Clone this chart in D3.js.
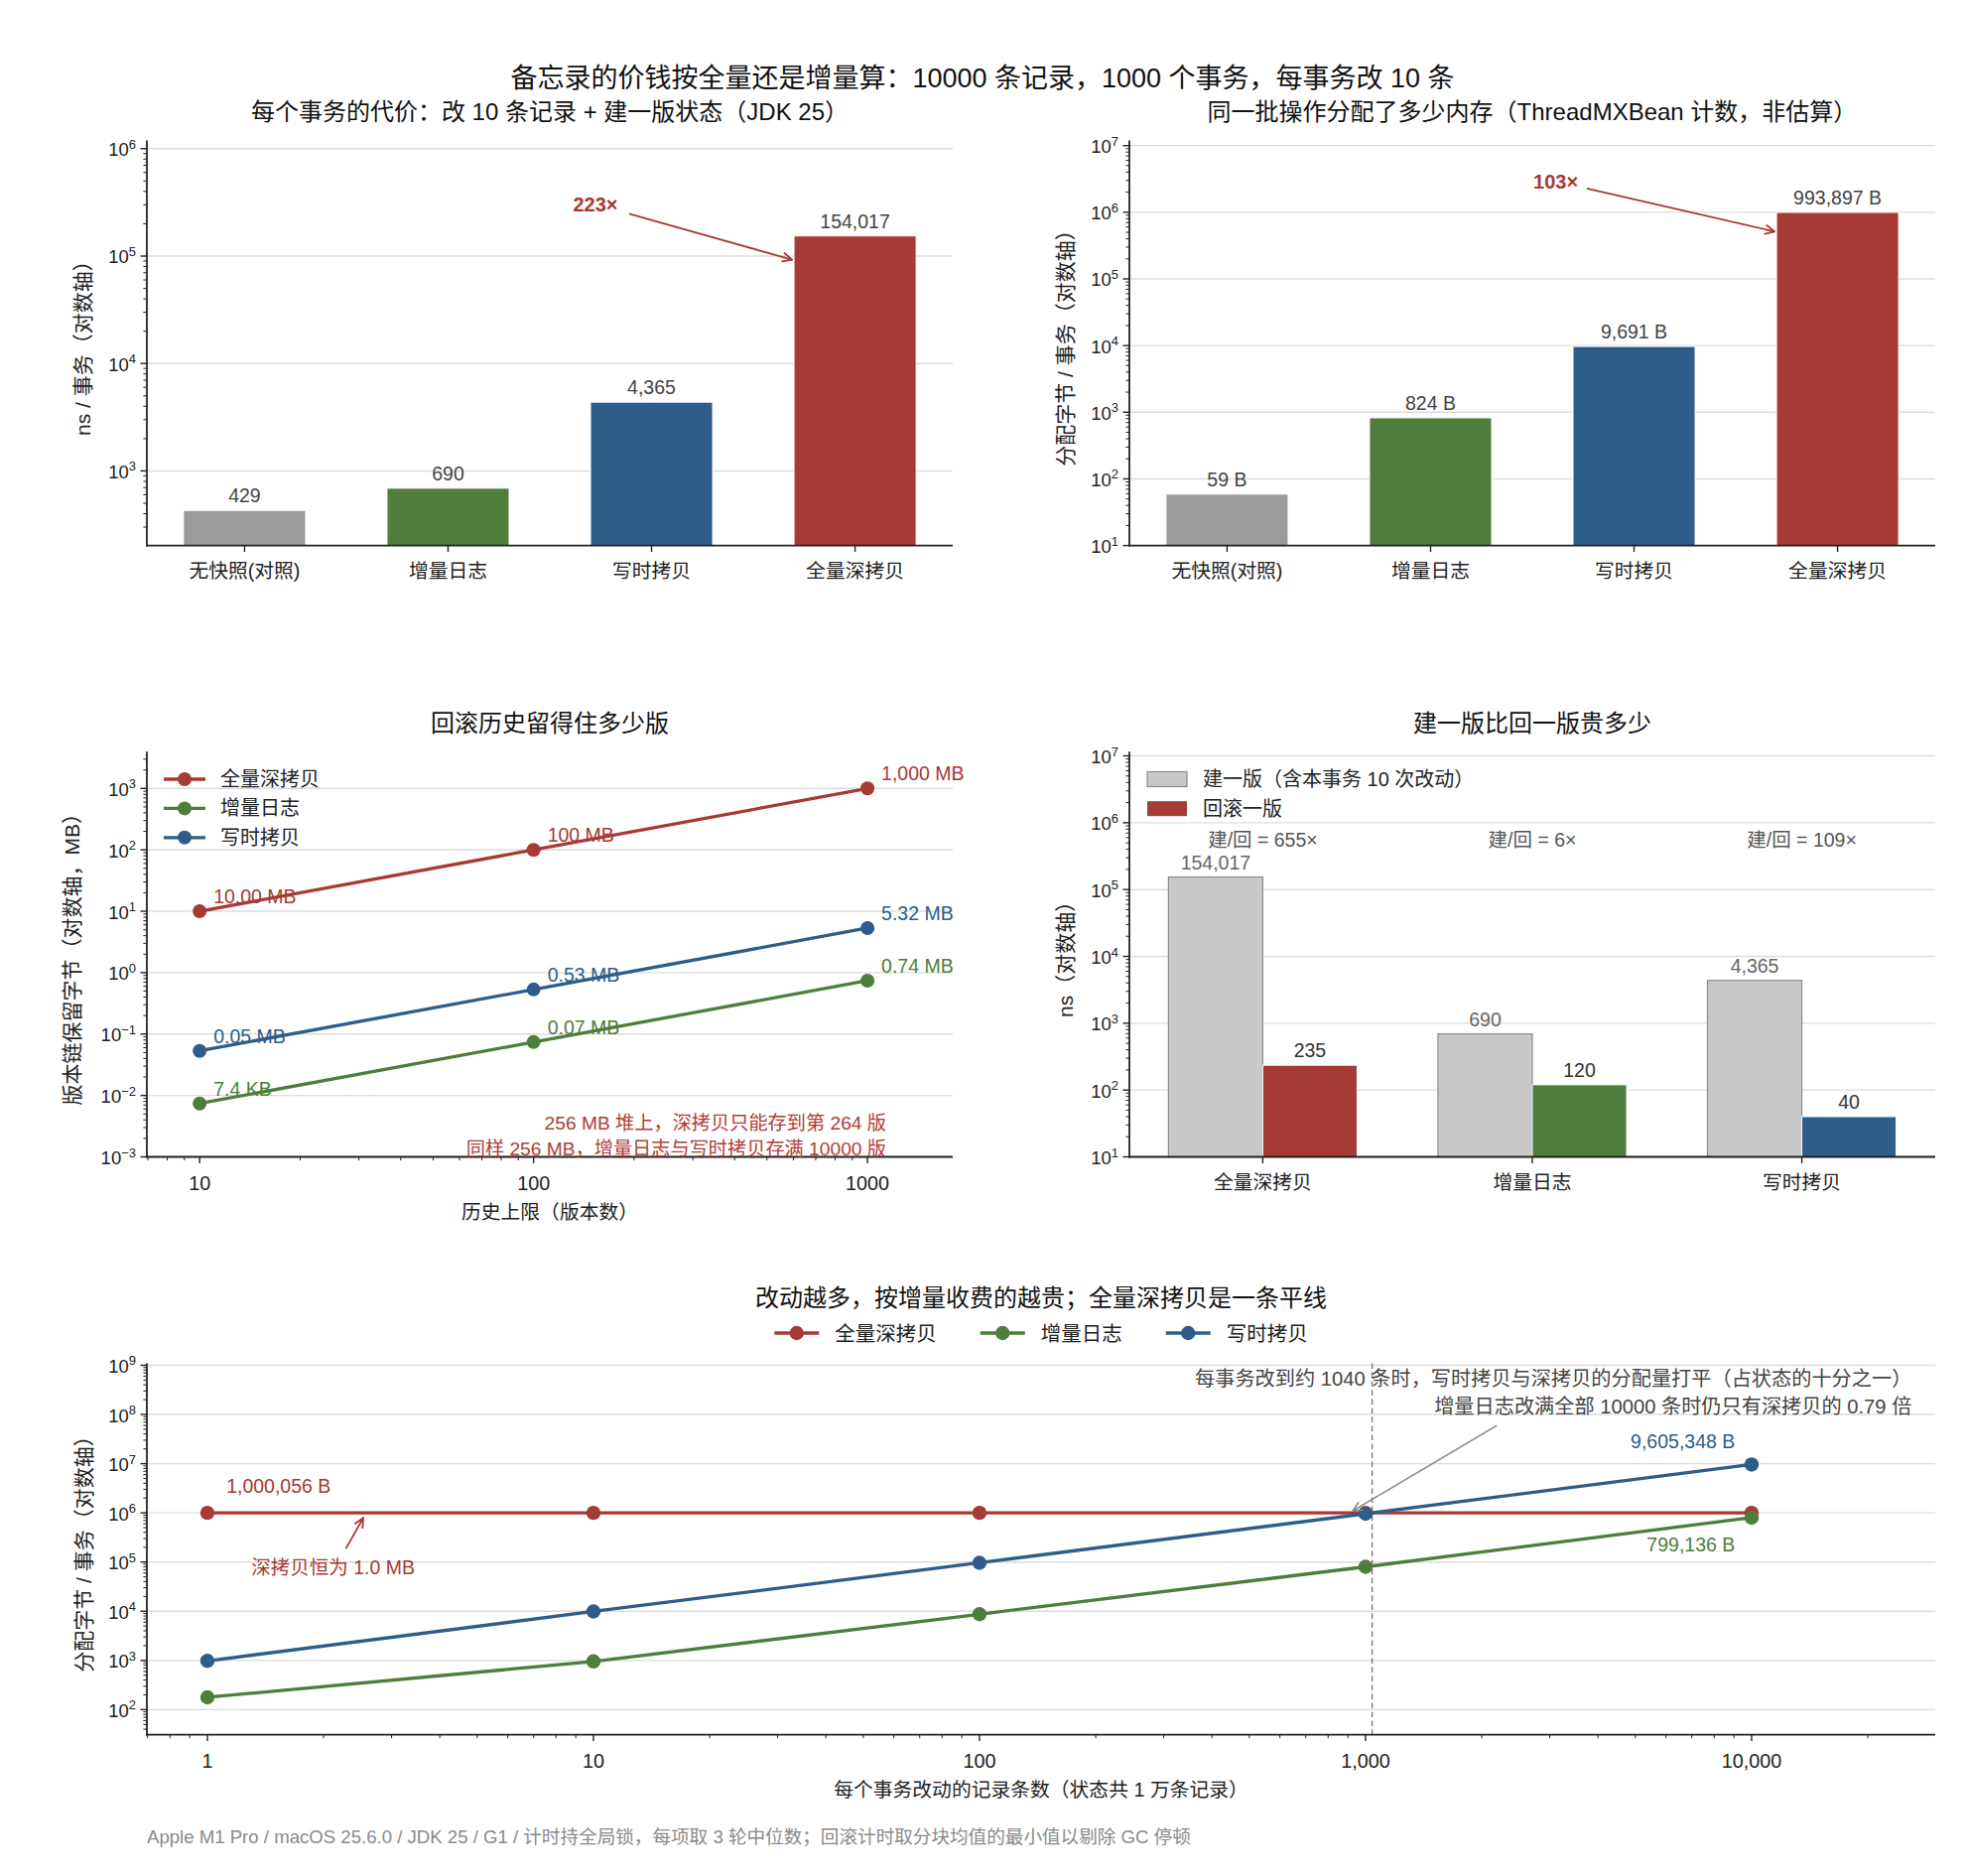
<!DOCTYPE html>
<html><head><meta charset="utf-8">
<script src="https://cdn.jsdelivr.net/npm/d3@7"></script>
<style>
body{margin:0;background:#fff}
svg{display:block}
text{font-family:"Liberation Sans","Noto Sans CJK SC","Noto Sans",sans-serif}
</style>
</head><body><script>
// ---------------- DATA ----------------
const costCats = ["无快照(对照)", "增量日志", "写时拷贝", "全量深拷贝"];
const costNs = [429, 690, 4365, 154017];
const allocBytes = [59, 824, 9691, 993897];

const histCaps = [10, 100, 1000];
const histFull = [10, 100, 1000];
const histInc = [0.0074, 0.074, 0.74];
const histCow = [0.0532, 0.532, 5.32];
const histFullLbl = ["10.00 MB", "100 MB", "1,000 MB"];
const histIncLbl = ["7.4 KB", "0.07 MB", "0.74 MB"];
const histCowLbl = ["0.05 MB", "0.53 MB", "5.32 MB"];

const rbCats = ["全量深拷贝", "增量日志", "写时拷贝"];
const rbBuild = [154017, 690, 4365];
const rbRollback = [235, 120, 40];
const rbRatio = ["655×", "6×", "109×"];

const changeCounts = [1, 10, 100, 1000, 10000];
const chFull = [1000056, 1000056, 1000056, 1000056, 1000056];
const chInc = [178, 955, 8700, 80000, 799136];
const chCow = [980, 9900, 96500, 961000, 9605348];
const breakEven = 1040;

const RED = "#a63a34", GREEN = "#4f7d3b", BLUE = "#2e5d8a", GRAY = "#9b9b9b", LGRAY = "#c9c9c9";
const costColors = [GRAY, GREEN, BLUE, RED];
const rbColors = [RED, GREEN, BLUE];

const FS = 19.8, FV = 19.5, FY = 21, FT = 24;

// ---------------- HELPERS ----------------
const svg = d3.select("body").append("svg").attr("width", 1980).attr("height", 1890);
svg.append("rect").attr("width", 1980).attr("height", 1890).attr("fill", "#fff");

function txt(g, x, y, s, o = {}) {
  const t = g.append("text").attr("x", x).attr("y", y)
    .attr("font-size", o.size || FS).attr("fill", o.color || "#222")
    .attr("text-anchor", o.anchor || "middle")
    .attr("dominant-baseline", o.base || "central").text(s);
  if (o.weight) t.attr("font-weight", o.weight);
  if (o.rotate) t.attr("transform", `rotate(-90,${x},${y})`);
  return t;
}
function supText(g, x, y, exp) {
  const t = g.append("text").attr("x", x).attr("y", y).attr("text-anchor", "end")
    .attr("font-size", 18.5).attr("fill", "#222");
  t.append("tspan").text("10");
  t.append("tspan").attr("font-size", 13).attr("dy", -7.5).text(exp < 0 ? "\u2212" + (-exp) : String(exp));
}
function logTicks(domain) {
  const [a, b] = domain, maj = [], min = [];
  for (let e = Math.floor(Math.log10(a)) - 1; e <= Math.ceil(Math.log10(b)); e++) {
    for (let s = 1; s < 10; s++) {
      const v = s * Math.pow(10, e);
      if (v < a * (1 - 1e-9) || v > b * (1 + 1e-9)) continue;
      (s === 1 ? maj : min).push(v);
    }
  }
  return { maj, min };
}
function gridY(g, y, P) {
  logTicks(y.domain()).maj.forEach(v => g.append("line")
    .attr("x1", P.x0).attr("x2", P.x1).attr("y1", y(v)).attr("y2", y(v))
    .attr("stroke", "#dcdcdc").attr("stroke-width", 1.4));
}
function line(g, x1, y1, x2, y2, c, w) {
  return g.append("line").attr("x1", x1).attr("y1", y1).attr("x2", x2).attr("y2", y2)
    .attr("stroke", c).attr("stroke-width", w);
}
function axisLogY(g, y, P) {
  const { maj, min } = logTicks(y.domain());
  min.forEach(v => line(g, P.x0 - 3.6, y(v), P.x0, y(v), "#222", 1));
  maj.forEach(v => {
    line(g, P.x0 - 6.5, y(v), P.x0, y(v), "#222", 1.4);
    supText(g, P.x0 - 11, y(v) + 7.5, Math.round(Math.log10(v)));
  });
  line(g, P.x0, P.y0, P.x0, P.y1 + 0.9, "#222", 1.8);
}
function spineBottom(g, P) { line(g, P.x0 - 0.9, P.y1, P.x1, P.y1, "#222", 1.8); }
function axisLogX(g, x, P, fmt) {
  const { maj, min } = logTicks(x.domain());
  min.forEach(v => line(g, x(v), P.y1, x(v), P.y1 + 3.6, "#222", 1));
  maj.forEach(v => {
    line(g, x(v), P.y1, x(v), P.y1 + 6.5, "#222", 1.4);
    txt(g, x(v), P.y1 + 26, fmt(v), { size: FS });
  });
  spineBottom(g, P);
}
function arrow(g, x1, y1, x2, y2, c, w, head) {
  line(g, x1, y1, x2, y2, c, w);
  const a = Math.atan2(y2 - y1, x2 - x1), h = head || 10, sp = 0.45;
  [a + Math.PI - sp, a + Math.PI + sp].forEach(b =>
    line(g, x2, y2, x2 + h * Math.cos(b), y2 + h * Math.sin(b), c, w).attr("stroke-linecap", "round"));
}

const P1 = { x0: 148, x1: 960, y0: 141.6, y1: 549.6 };
const P2 = { x0: 1138, x1: 1950, y0: 141.6, y1: 549.6 };
const P3 = { x0: 148, x1: 960, y0: 757.2, y1: 1165.5 };
const P4 = { x0: 1138, x1: 1950, y0: 757.2, y1: 1165.5 };
const P5 = { x0: 148, x1: 1950, y0: 1373.4, y1: 1747.6 };

// main title
txt(svg, 990, 79, "备忘录的价钱按全量还是增量算：10000 条记录，1000 个事务，每事务改 10 条", { size: 27, color: "#111" });

// ---------------- BAR PANELS (top) ----------------
function barPanel(P, vals, ydom, fmt, title, ylabel, ann) {
  const g = svg.append("g");
  const x = d3.scaleLinear().domain([-0.48, 3.48]).range([P.x0, P.x1]);
  const y = d3.scaleLog().domain(ydom).range([P.y1, P.y0]);
  gridY(g, y, P);
  g.selectAll(null).data(vals).join("rect")
    .attr("x", (d, i) => x(i - 0.3)).attr("width", x(0.3) - x(-0.3))
    .attr("y", d => y(d)).attr("height", d => P.y1 - y(d))
    .attr("fill", (d, i) => costColors[i]).attr("stroke", "#fff").attr("stroke-width", 1);
  vals.forEach((d, i) => txt(g, x(i), y(d) - 15, fmt(d), { size: FV, color: "#444" }));
  axisLogY(g, y, P);
  spineBottom(g, P);
  costCats.forEach((c, i) => {
    line(g, x(i), P.y1, x(i), P.y1 + 6.5, "#222", 1.4);
    txt(g, x(i), P.y1 + 25.5, c, { size: FS });
  });
  txt(g, (P.x0 + P.x1) / 2, 112.7, title, { size: FT, color: "#111" });
  txt(g, P.x0 - 64, (P.y0 + P.y1) / 2, ylabel, { size: FY, rotate: true });
  // annotation
  txt(g, x(ann.tx), y(ann.ty), ann.text, { size: 20, color: RED, weight: 600 });
  arrow(g, x(ann.sx), y(ann.sy), x(ann.ex), y(ann.ey), RED, 1.8, 10);
}
barPanel(P1, costNs, [202, 1.19e6], d => d3.format(",")(d),
  "每个事务的代价：改 10 条记录 + 建一版状态（JDK 25）", "ns / 事务（对数轴）",
  { text: "223×", tx: 1.724, ty: 3.03e5, sx: 1.89, sy: 2.48e5, ex: 2.69, ey: 9.25e4 });
barPanel(P2, allocBytes, [10, 1.19e7], d => d3.format(",")(d) + " B",
  "同一批操作分配了多少内存（ThreadMXBean 计数，非估算）", "分配字节 / 事务（对数轴）",
  { text: "103×", tx: 1.615, ty: 2.91e6, sx: 1.768, sy: 2.28e6, ex: 2.69, ey: 5.13e5 });

// ---------------- PANEL 3: history ----------------
{
  const P = P3, g = svg.append("g");
  const x = d3.scaleLog().domain([6.95, 1800]).range([P.x0, P.x1]);
  const y = d3.scaleLog().domain([1e-3, 3980]).range([P.y1, P.y0]);
  gridY(g, y, P);
  const series = [
    { name: "全量深拷贝", vals: histFull, lbl: histFullLbl, c: RED },
    { name: "增量日志", vals: histInc, lbl: histIncLbl, c: GREEN },
    { name: "写时拷贝", vals: histCow, lbl: histCowLbl, c: BLUE }];
  const ln = d3.line().x(d => x(d[0])).y(d => y(d[1]));
  series.forEach(s => {
    const pts = histCaps.map((c, i) => [c, s.vals[i]]);
    g.append("path").attr("d", ln(pts)).attr("fill", "none").attr("stroke", s.c).attr("stroke-width", 3.3);
    pts.forEach(p => g.append("circle").attr("cx", x(p[0])).attr("cy", y(p[1])).attr("r", 7).attr("fill", s.c));
    pts.forEach((p, i) => txt(g, x(p[0]) + 14, y(p[1]) - 15, s.lbl[i], { size: FV, color: s.c, anchor: "start" }));
  });
  axisLogY(g, y, P);
  axisLogX(g, x, P, v => String(v));
  // legend
  series.forEach((s, i) => {
    const ly = 785 + i * 29.4;
    line(g, 165, ly, 207, ly, s.c, 3.3);
    g.append("circle").attr("cx", 186).attr("cy", ly).attr("r", 7).attr("fill", s.c);
    txt(g, 222, ly, s.name, { size: 20, anchor: "start" });
  });
  txt(g, 893, 1131, "256 MB 堆上，深拷贝只能存到第 264 版", { size: 19.2, color: "#b03c36", anchor: "end" });
  txt(g, 893, 1157, "同样 256 MB，增量日志与写时拷贝存满 10000 版", { size: 19.2, color: "#b03c36", anchor: "end" });
  txt(g, (P.x0 + P.x1) / 2, 728, "回滚历史留得住多少版", { size: FT, color: "#111" });
  txt(g, (P.x0 + P.x1) / 2, 1220.7, "历史上限（版本数）", { size: FS });
  txt(g, 72.6, (P.y0 + P.y1) / 2, "版本链保留字节（对数轴，MB）", { size: FY, rotate: true });
}

// ---------------- PANEL 4: build vs rollback ----------------
{
  const P = P4, g = svg.append("g");
  const x = d3.scaleLinear().domain([-0.495, 2.495]).range([P.x0, P.x1]);
  const y = d3.scaleLog().domain([10, 1.16e7]).range([P.y1, P.y0]);
  const bw = 0.35;
  gridY(g, y, P);
  g.selectAll(null).data(rbBuild).join("rect")
    .attr("x", (d, i) => x(i - bw)).attr("width", x(bw) - x(0))
    .attr("y", d => y(d)).attr("height", d => P.y1 - y(d))
    .attr("fill", LGRAY).attr("stroke", "#8c8c8c").attr("stroke-width", 1.2);
  g.selectAll(null).data(rbRollback).join("rect")
    .attr("x", (d, i) => x(i)).attr("width", x(bw) - x(0))
    .attr("y", d => y(d)).attr("height", d => P.y1 - y(d))
    .attr("fill", (d, i) => rbColors[i]).attr("stroke", "#fff").attr("stroke-width", 1);
  rbBuild.forEach((d, i) => txt(g, x(i - bw / 2), y(d) - 15, d3.format(",")(d), { size: FV, color: "#666" }));
  rbRollback.forEach((d, i) => txt(g, x(i + bw / 2), y(d) - 15, d3.format(",")(d), { size: FV, color: "#333" }));
  rbRatio.forEach((r, i) => txt(g, x(i), y(5.5e5), "建/回 = " + r, { size: FV, color: "#555" }));
  axisLogY(g, y, P);
  spineBottom(g, P);
  rbCats.forEach((c, i) => {
    line(g, x(i), P.y1, x(i), P.y1 + 6.5, "#222", 1.4);
    txt(g, x(i), P.y1 + 25.5, c, { size: FS });
  });
  // legend
  g.append("rect").attr("x", 1156).attr("y", 785 - 7.5).attr("width", 40).attr("height", 15)
    .attr("fill", LGRAY).attr("stroke", "#8c8c8c").attr("stroke-width", 1.2);
  txt(g, 1212, 785, "建一版（含本事务 10 次改动）", { size: 20, anchor: "start" });
  g.append("rect").attr("x", 1156).attr("y", 814.7 - 7.5).attr("width", 40).attr("height", 15).attr("fill", RED);
  txt(g, 1212, 814.7, "回滚一版", { size: 20, anchor: "start" });
  txt(g, (P.x0 + P.x1) / 2, 728, "建一版比回一版贵多少", { size: FT, color: "#111" });
  txt(g, P.x0 - 64, (P.y0 + P.y1) / 2, "ns（对数轴）", { size: FY, rotate: true });
}

// ---------------- PANEL 5: changes per txn ----------------
{
  const P = P5, g = svg.append("g");
  const x = d3.scaleLog().domain([0.697, 29900]).range([P.x0, P.x1]);
  const y = d3.scaleLog().domain([31, 1.1e9]).range([P.y1, P.y0]);
  gridY(g, y, P);
  line(g, x(breakEven), P.y0, x(breakEven), P.y1, "#777", 1.4).attr("stroke-dasharray", "5.5,3.5");
  const series = [
    { name: "全量深拷贝", vals: chFull, c: RED },
    { name: "增量日志", vals: chInc, c: GREEN },
    { name: "写时拷贝", vals: chCow, c: BLUE }];
  const ln = d3.line().x(d => x(d[0])).y(d => y(d[1]));
  series.forEach(s => {
    const pts = changeCounts.map((c, i) => [c, s.vals[i]]);
    g.append("path").attr("d", ln(pts)).attr("fill", "none").attr("stroke", s.c).attr("stroke-width", 3.3);
    pts.forEach(p => g.append("circle").attr("cx", x(p[0])).attr("cy", y(p[1])).attr("r", 7.2).attr("fill", s.c));
  });
  axisLogY(g, y, P);
  axisLogX(g, x, P, v => d3.format(",")(v));
  // labels
  txt(g, x(1.12), y(3.5e6), d3.format(",")(chFull[0]) + " B", { size: FV, color: RED, anchor: "start" });
  txt(g, x(1.30), y(8.0e4), "深拷贝恒为 1.0 MB", { size: FV, color: RED, anchor: "start" });
  arrow(g, x(2.284), y(1.88e5), x(2.533), y(7.9e5), RED, 1.8, 10);
  txt(g, x(9060), y(2.84e7), d3.format(",")(chCow[4]) + " B", { size: FV, color: BLUE, anchor: "end" });
  txt(g, x(9060), y(2.26e5), d3.format(",")(chInc[4]) + " B", { size: FV, color: GREEN, anchor: "end" });
  txt(g, x(26000), y(5.3e8), "每事务改到约 1040 条时，写时拷贝与深拷贝的分配量打平（占状态的十分之一）", { size: 20.2, color: "#444", anchor: "end" });
  txt(g, x(26000), y(1.44e8), "增量日志改满全部 10000 条时仍只有深拷贝的 0.79 倍", { size: 20.2, color: "#444", anchor: "end" });
  arrow(g, x(2188), y(5.96e7), x(927), y(1.1e6), "#888", 1.6, 10);
  txt(g, (P.x0 + P.x1) / 2, 1307, "改动越多，按增量收费的越贵；全量深拷贝是一条平线", { size: FT, color: "#111" });
  txt(g, (P.x0 + P.x1) / 2, 1803, "每个事务改动的记录条数（状态共 1 万条记录）", { size: FS });
  txt(g, P.x0 - 64, (P.y0 + P.y1) / 2, "分配字节 / 事务（对数轴）", { size: FY, rotate: true });
  // legend (centered)
  const lg = g.append("g");
  let cx = 0;
  series.forEach((s, i) => {
    line(lg, cx, 0, cx + 45, 0, s.c, 3.3);
    lg.append("circle").attr("cx", cx + 22.5).attr("cy", 0).attr("r", 7.2).attr("fill", s.c);
    const t = txt(lg, cx + 61, 0, s.name, { size: 20.5, anchor: "start" });
    cx += 61 + t.node().getComputedTextLength() + 44;
  });
  const totalW = cx - 44;
  lg.attr("transform", `translate(${(P.x0 + P.x1) / 2 - totalW / 2},1343)`);
}

// footnote
txt(svg, 148, 1850, "Apple M1 Pro / macOS 25.6.0 / JDK 25 / G1 / 计时持全局锁，每项取 3 轮中位数；回滚计时取分块均值的最小值以剔除 GC 停顿", { size: 18.6, color: "#8a8a8a", anchor: "start" });
</script></body></html>
